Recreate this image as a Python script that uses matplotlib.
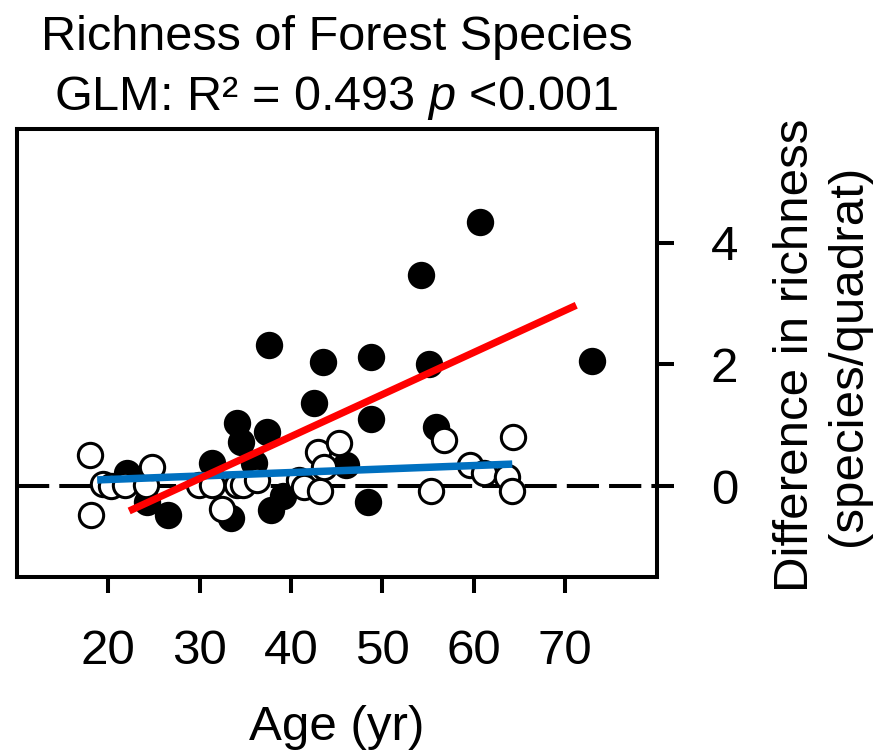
import matplotlib
matplotlib.use("Agg")
import matplotlib.pyplot as plt
import numpy as np

plt.rcParams["font.family"] = ["Liberation Sans", "DejaVu Sans"]
plt.rcParams["mathtext.fontset"] = "custom"
plt.rcParams["mathtext.rm"] = "Liberation Sans"
plt.rcParams["mathtext.it"] = "Liberation Sans:italic"

# forest species (filled) - age (yr) vs difference in richness
filled_age = [22.1, 24.3, 26.5, 31.4, 33.4, 34.1, 34.5, 35.9, 37.4, 37.6, 37.8, 39.1,
              42.5, 43.5, 46.0, 48.4, 48.7, 48.8, 54.2, 55.1, 55.9, 60.7, 72.9]
filled_diff = [0.21, -0.26, -0.48, 0.37, -0.53, 1.03, 0.73, 0.37, 0.89, 2.32, -0.39, -0.16,
               1.36, 2.04, 0.34, -0.26, 1.10, 2.12, 3.46, 2.00, 0.97, 4.34, 2.05]

# other group (open)
open_age = [18.0, 18.1, 19.4, 20.3, 21.9, 24.1, 24.8, 29.9, 31.4, 32.5, 34.1, 34.8, 36.3,
            40.9, 41.4, 42.9, 43.2, 43.6, 45.2, 55.3, 56.7, 59.6, 61.1, 63.6, 64.2, 64.3]
open_diff = [0.51, -0.48, 0.04, 0.0, 0.02, 0.02, 0.32, 0.02, 0.02, -0.37, 0.02, 0.02, 0.10,
             0.10, -0.02, 0.56, -0.09, 0.32, 0.70, -0.09, 0.76, 0.34, 0.21, 0.15, -0.09, 0.81]

# fitted lines: intercept, slope, x range
red_fit = (-1.951, 0.0691)
red_range = (22.3, 71.2)
blue_fit = (-0.008, 0.00573)
blue_range = (18.8, 64.2)

FS = 35.5

fig = plt.figure(figsize=(8.84, 7.54), dpi=100)
ax = fig.add_axes([16.7 / 884, 1 - 576.7 / 754, 640 / 884, 447.4 / 754])

ax.axhline(0, color="black", linewidth=2.9, dashes=(8, 2.5), zorder=1)

ax.plot(filled_age, filled_diff, linestyle="none", marker="o", markersize=17.5,
        markerfacecolor="black", markeredgecolor="black", markeredgewidth=2.2, zorder=2)
ax.plot(open_age, open_diff, linestyle="none", marker="o", markersize=17.5,
        markerfacecolor="white", markeredgecolor="black", markeredgewidth=2.2, zorder=3)

bx = np.array(blue_range)
ax.plot(bx, blue_fit[0] + blue_fit[1] * bx, color="#0070C0", linewidth=5.4, zorder=4,
        solid_capstyle="butt")
rx = np.array(red_range)
ax.plot(rx, red_fit[0] + red_fit[1] * rx, color="#FF0000", linewidth=5.2, zorder=5,
        solid_capstyle="butt")

ax.set_xlim(10, 80)
ax.set_ylim(-1.49, 5.86)
ax.set_xticks([20, 30, 40, 50, 60, 70])
ax.set_yticks([0, 2, 4])
ax.yaxis.tick_right()
ax.tick_params(axis="x", length=11.5, width=2.9, pad=26, labelsize=FS)
ax.tick_params(axis="y", length=12, width=2.9, pad=27, labelsize=FS)
for s in ax.spines.values():
    s.set_linewidth(2.9)

cx = 336.7 / 884
fig.text(cx, 1 - 50 / 754, "Richness of Forest Species", ha="center", va="baseline", fontsize=35)
fig.text(cx, 1 - 110 / 754, "GLM: R\u00b2 = 0.493 $p$ <0.001", ha="center", va="baseline",
         fontsize=35)
fig.text(cx, 1 - 740 / 754, "Age (yr)", ha="center", va="baseline", fontsize=FS)
fig.text(796 / 884, 1 - 355 / 754, "Difference in richness", rotation=90, ha="center",
         va="center", fontsize=FS)
fig.text(849 / 884, 1 - 355 / 754, "(species/quadrat)", rotation=90, ha="center",
         va="center", fontsize=FS)

fig.savefig("out.png", dpi=100)
